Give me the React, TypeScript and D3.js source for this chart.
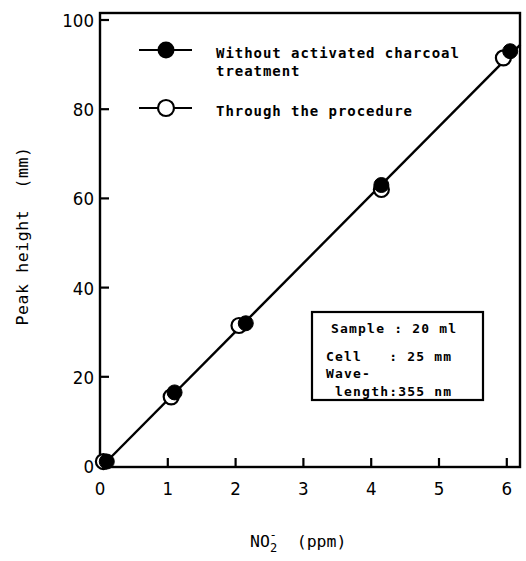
import React from "react";
import * as d3 from "d3";

const xTicks = [0, 1, 2, 3, 4, 5, 6];
const yTicks = [0, 20, 40, 60, 80, 100];
const withoutX = [0.1, 1.1, 2.15, 4.15, 6.05];
const withoutY = [1, 16.5, 32, 63, 93];
const throughX = [0.05, 1.05, 2.05, 4.15, 5.95];
const throughY = [1, 15.5, 31.5, 62, 91.5];
const fitX = [0, 6.2];
const fitY = [-0.5, 94.5];
const legendLabels = [["Without activated charcoal", "treatment"], ["Through the procedure"]];
const boxLines = ["Sample : 20 ml", "Cell   : 25 mm", "Wave-", " length:355 nm"];

export default function App() {
  const W = 526, H = 561;
  const left = 100, right = 520, top = 13, bottom = 467;
  const x = d3.scaleLinear().domain([0, 6.2]).range([left, left + 6.2 * 67.8]);
  const y = d3.scaleLinear().domain([0, 100]).range([bottom - 1, 20]);
  const line = d3.line<[number, number]>().x(d => x(d[0])).y(d => y(d[1]));
  const fit: [number, number][] = fitX.map((v, i) => [v, fitY[i]]);
  const mono = "'DejaVu Sans Mono', monospace";
  const tickFont = "'DejaVu Sans Condensed', 'DejaVu Sans', sans-serif";
  return (
    <svg width={W} height={H} style={{ position: "absolute", left: 0, top: 0, background: "#fff" }}>
      <rect x={0} y={0} width={W} height={H} fill="#fff" />
      <rect x={left} y={top} width={right - left} height={bottom - top} fill="none" stroke="#000" strokeWidth={2.4} />
      {yTicks.map(t => (
        <g key={"y" + t}>
          <line x1={left} x2={left + 9} y1={y(t)} y2={y(t)} stroke="#000" strokeWidth={2.2} />
          <text x={left - 6} y={y(t) + 7} textAnchor="end" fontFamily={tickFont} fontSize={18.5} fill="#000">{t}</text>
        </g>
      ))}
      {xTicks.map(t => (
        <g key={"x" + t}>
          {t > 0 && <line x1={x(t)} x2={x(t)} y1={bottom} y2={bottom - 9} stroke="#000" strokeWidth={2.2} />}
          <text x={x(t)} y={bottom + 28} textAnchor="middle" fontFamily={tickFont} fontSize={18.5} fill="#000">{t}</text>
        </g>
      ))}
      <path d={line(fit) || ""} fill="none" stroke="#000" strokeWidth={2.4} />
      {throughX.map((v, i) => (
        <circle key={"o" + i} cx={x(v)} cy={y(throughY[i])} r={7.5} fill="#fff" stroke="#000" strokeWidth={2.2} />
      ))}
      {withoutX.map((v, i) => (
        <circle key={"f" + i} cx={x(v)} cy={y(withoutY[i])} r={7.5} fill="#000" stroke="#000" strokeWidth={1} />
      ))}
      {/* legend */}
      <line x1={139} x2={192} y1={50} y2={50} stroke="#000" strokeWidth={2.2} />
      <circle cx={166} cy={50} r={8.5} fill="#000" />
      <line x1={139} x2={192} y1={108} y2={108} stroke="#000" strokeWidth={2.2} />
      <circle cx={166} cy={108} r={8} fill="#fff" stroke="#000" strokeWidth={2.2} />
      {legendLabels[0].map((s, i) => (
        <text key={"l0" + i} x={216} y={58 + i * 18} fontFamily={mono} fontSize={14} fontWeight="bold" letterSpacing={0.95} fill="#000">{s}</text>
      ))}
      <text x={216} y={116} fontFamily={mono} fontSize={14} fontWeight="bold" letterSpacing={0.95} fill="#000">{legendLabels[1][0]}</text>
      {/* info box */}
      <rect x={312} y={312} width={171} height={88} fill="#fff" stroke="#000" strokeWidth={2.2} />
      {boxLines.map((s, i) => (
        <text key={"b" + i} x={i === 0 ? 331 : 326} y={[333, 361, 378, 396][i]} fontFamily={mono} fontSize={13} fontWeight="bold" letterSpacing={1.2} fill="#000" style={{ whiteSpace: "pre" }}>{s}</text>
      ))}
      {/* axis titles */}
      <text transform="translate(28,236) rotate(-90)" textAnchor="middle" fontFamily={mono} fontSize={16.5} letterSpacing={0.6} fill="#000" style={{ whiteSpace: "pre" }}>{"Peak height  (mm)"}</text>
      <text x={250} y={547} fontFamily={mono} fontSize={16.5} fill="#000" style={{ whiteSpace: "pre" }}>
        NO<tspan fontSize={12} dy={5}>2</tspan><tspan fontSize={12} dx={-7.5} dy={-13}>-</tspan><tspan fontSize={16.5} dy={8}>{"  (ppm)"}</tspan>
      </text>
    </svg>
  );
}
